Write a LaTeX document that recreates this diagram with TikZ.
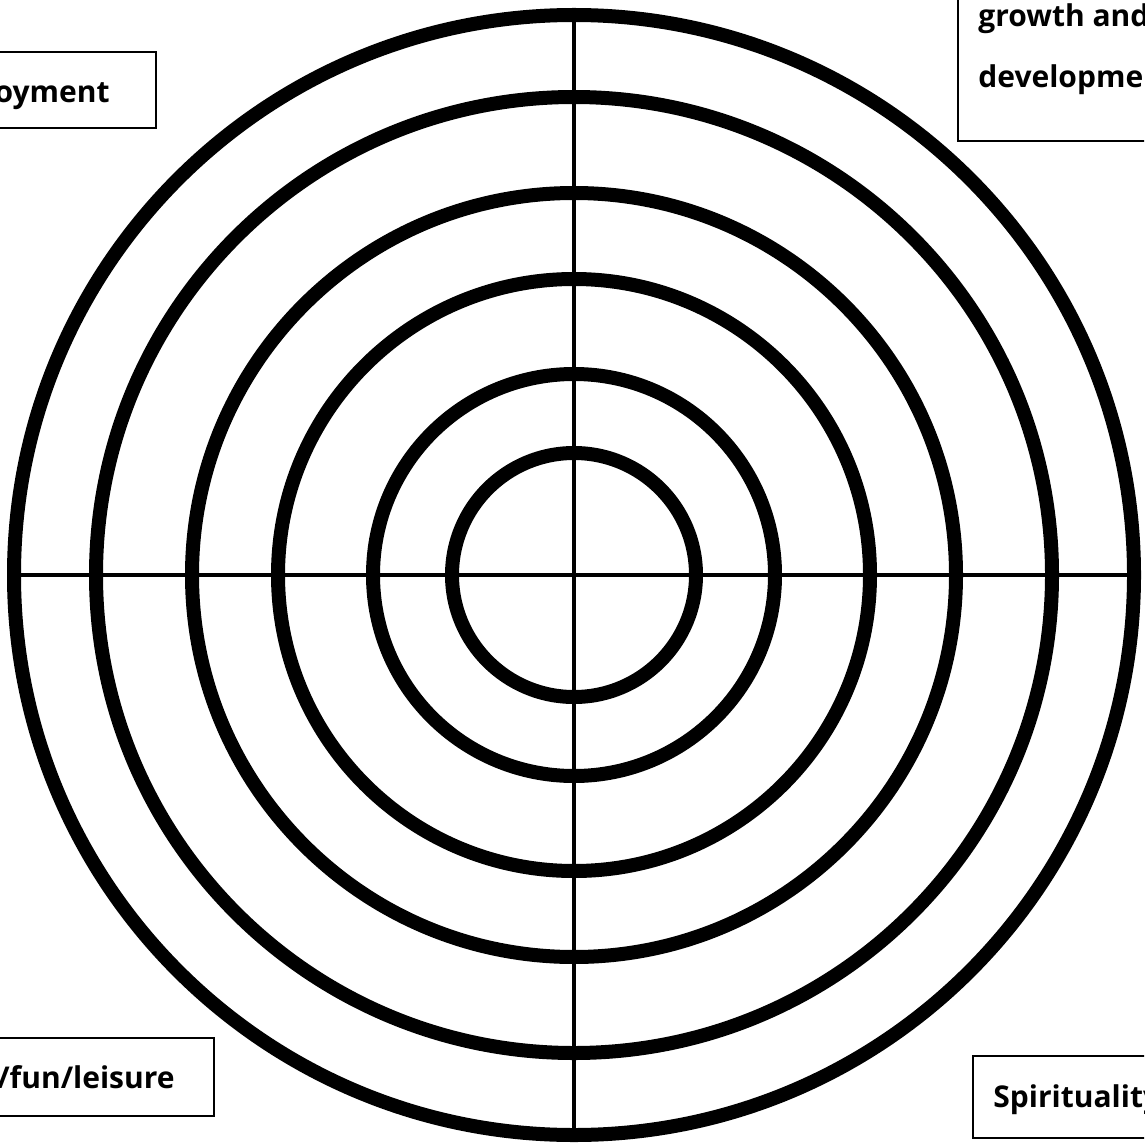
\documentclass[tikz,border=0pt]{standalone}
\usepackage{fontspec}
\setmainfont{Open Sans}
\usepackage{tikz}
\usetikzlibrary{positioning,calc}
\tikzset{
  ring/.style={draw=black,line width=7pt},
  axis/.style={draw=black,line width=2.1pt},
  lbox/.style={rectangle,draw=black,line width=0.8pt,fill=white,inner sep=0pt},
  ltext/.style={font=\fontsize{15}{18}\selectfont\bfseries,inner sep=0pt},
}
\begin{document}
\begin{tikzpicture}[x=0.5pt,y=-0.5pt]
  \useasboundingbox (0,0) rectangle (1144,1144);
  \clip (0,0) rectangle (1144,1144);
  \coordinate (c) at (574,575);
  \coordinate (west) at ($(c)+(-560,0)$);
  \coordinate (east) at ($(c)+(560,0)$);
  \coordinate (north) at ($(c)+(0,-560)$);
  \coordinate (south) at ($(c)+(0,560)$);
  \draw[axis] (west) -- (east);
  \draw[axis] (north) -- (south);
  \foreach \r in {61,100.5,148,191,239,280}
    \draw[ring] (c) circle[radius=\r pt];
  \node[lbox,anchor=north east,minimum width=200pt,minimum height=38pt] (empbox) at (157,51) {};
  \node[ltext,anchor=base east] (emptext) at (110,103) {oyment};
  \node[lbox,anchor=south west,minimum width=200pt,minimum height=200pt] (growbox) at (957,142) {};
  \node[ltext,anchor=base west] (growtext) at (978,27) {growth and};
  \node[ltext,anchor=base west] (devtext) at (978,88) {development};
  \node[lbox,anchor=north east,minimum width=200pt,minimum height=39pt] (funbox) at (215,1037) {};
  \node[ltext,anchor=base east] (funtext) at (175,1088) {/fun/leisure};
  \node[lbox,anchor=north west,minimum width=200pt,minimum height=41pt] (spiritbox) at (972,1055) {};
  \node[ltext,anchor=base west] (spirittext) at (993,1107) {Spirituality};
\end{tikzpicture}
\end{document}
